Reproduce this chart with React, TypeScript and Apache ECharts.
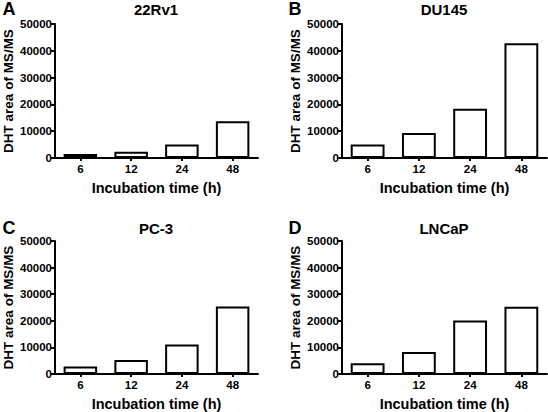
import React, { useEffect, useRef } from "react";
import * as echarts from "echarts";

const categories = ["6", "12", "24", "48"];
const panelLetters = ["A", "B", "C", "D"];
const panelTitles = ["22Rv1", "DU145", "PC-3", "LNCaP"];
const values22Rv1 = [1500, 2300, 5000, 13700];
const valuesDU145 = [5000, 9300, 18400, 42800];
const valuesPC3 = [2850, 5300, 11100, 25400];
const valuesLNCaP = [4000, 8300, 20100, 25300];
const yMin = 0;
const yMax = 50000;
const yInterval = 10000;
const xTitle = "Incubation time (h)";
const yTitle = "DHT area of MS/MS";

const FONT = "'Liberation Sans', Arial, Helvetica, sans-serif";

export default function App() {
  const ref = useRef<HTMLDivElement>(null);

  useEffect(() => {
    if (!ref.current) return;
    const chart = echarts.init(ref.current, undefined, { renderer: "svg" });
    const seriesValues = [values22Rv1, valuesDU145, valuesPC3, valuesLNCaP];
    const grids = [
      { left: 55, top: 24, width: 203, height: 134 },
      { left: 342, top: 24, width: 205, height: 134 },
      { left: 55, top: 241, width: 203, height: 135 },
      { left: 342, top: 241, width: 205, height: 135 },
    ];
    const letterPos = [
      [9, 9],
      [295, 9],
      [9, 228],
      [295, 228],
    ];
    const titlePos = [
      [156, 9],
      [444, 9],
      [156, 228],
      [444, 228],
    ];

    const option: any = {
      animation: false,
      backgroundColor: "#ffffff",
      textStyle: { fontFamily: FONT },
      grid: grids.map((g) => ({ ...g, containLabel: false })),
      xAxis: grids.map((_, i) => ({
        type: "category",
        gridIndex: i,
        data: categories,
        name: xTitle,
        nameLocation: "middle",
        nameGap: 22,
        nameTextStyle: { fontSize: 14.5, fontWeight: "bold", color: "#000", fontFamily: FONT },
        axisLine: { show: true, lineStyle: { color: "#000", width: 2 } },
        axisTick: { show: true, alignWithLabel: true, length: 3, lineStyle: { color: "#000", width: 2 } },
        axisLabel: { fontSize: 11.5, fontWeight: "bold", color: "#000", margin: 5, fontFamily: FONT },
        splitLine: { show: false },
      })),
      yAxis: grids.map((_, i) => ({
        type: "value",
        gridIndex: i,
        min: yMin,
        max: yMax,
        interval: yInterval,
        name: yTitle,
        nameLocation: "middle",
        nameGap: 40,
        nameTextStyle: { fontSize: 13.5, fontWeight: "bold", color: "#000", fontFamily: FONT },
        axisLine: { show: true, lineStyle: { color: "#000", width: 2 } },
        axisTick: { show: true, length: 4, lineStyle: { color: "#000", width: 2 } },
        axisLabel: {
          fontSize: 11.5,
          fontWeight: "bold",
          color: "#000",
          margin: 3,
          fontFamily: FONT,
          formatter: (v: number) => String(v),
        },
        splitLine: { show: false },
      })),
      series: seriesValues.map((vals, i) => ({
        type: "bar",
        xAxisIndex: i,
        yAxisIndex: i,
        data: vals,
        barWidth: "66%",
        itemStyle: { color: "#ffffff", borderColor: "#000", borderWidth: 2 },
      })),
      graphic: [
        ...panelLetters.map((l, i) => ({
          type: "text",
          x: letterPos[i][0],
          y: letterPos[i][1],
          style: {
            text: l,
            font: `bold 18px ${FONT}`,
            fill: "#000",
            textAlign: "center",
            textVerticalAlign: "middle",
          },
        })),
        ...panelTitles.map((t, i) => ({
          type: "text",
          x: titlePos[i][0],
          y: titlePos[i][1],
          style: {
            text: t,
            font: `bold 15px ${FONT}`,
            fill: "#000",
            textAlign: "center",
            textVerticalAlign: "middle",
          },
        })),
      ],
    };
    chart.setOption(option);
    return () => chart.dispose();
  }, []);

  return (
    <div
      ref={ref}
      style={{ position: "fixed", left: 0, top: 0, width: 548, height: 412, background: "#fff" }}
    />
  );
}
